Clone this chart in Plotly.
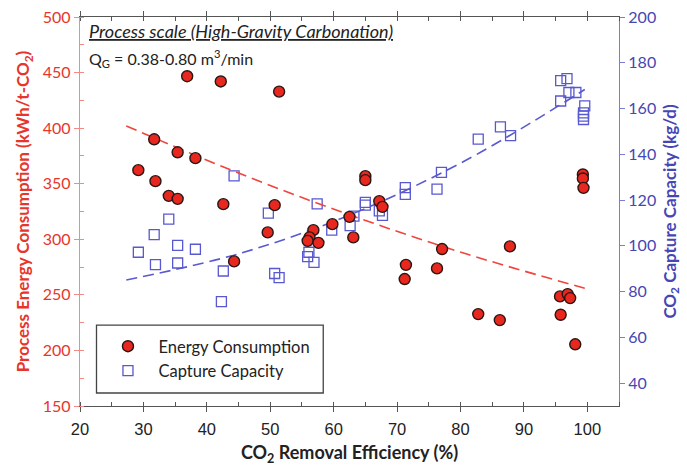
import plotly.graph_objects as go

# CO2 removal efficiency (%) and process energy consumption (kWh/t-CO2)
removal_energy = [36.9, 42.2, 51.4, 31.7, 35.4, 38.2, 29.2, 31.9, 34.0, 35.4,
                  42.6, 50.7, 49.6, 44.3, 56.8, 56.2, 55.9, 57.6, 59.8, 62.5,
                  63.1, 65.0, 65.0, 67.2, 67.7, 71.4, 71.2, 77.1, 76.3, 87.8,
                  82.8, 86.2, 95.7, 96.9, 97.3, 95.8, 98.1, 99.3, 99.3, 99.4]
energy = [446.7, 442.0, 432.9, 390.0, 378.3, 373.0, 362.2, 352.3, 339.1, 336.4,
          331.6, 330.7, 306.2, 280.1, 308.2, 301.7, 298.6, 296.8, 313.6, 320.2,
          301.7, 356.8, 353.2, 334.3, 329.2, 277.0, 264.2, 291.2, 273.8, 293.6,
          232.7, 227.3, 248.6, 250.7, 247.1, 232.1, 205.5, 358.3, 354.7, 346.3]

# CO2 removal efficiency (%) and CO2 capture capacity (kg/d)
removal_capacity = [44.3, 34.0, 31.7, 49.7, 57.4, 29.2, 35.4, 38.2, 31.9, 35.4,
                    42.3, 42.6, 50.7, 51.4, 56.1, 55.9, 56.9, 65.0, 65.0, 67.2,
                    67.7, 62.6, 63.2, 59.7, 71.3, 71.3, 76.3, 77.0, 82.8, 86.3,
                    87.9, 95.8, 96.8, 97.1, 98.2, 95.8, 99.6, 99.4, 99.4, 99.4]
capacity = [130.6, 111.7, 104.9, 114.3, 118.3, 97.2, 100.2, 98.5, 91.8, 92.5,
            75.6, 89.0, 87.9, 86.1, 97.2, 95.3, 92.8, 119.0, 117.8, 115.3,
            113.3, 108.8, 113.0, 106.9, 125.4, 122.5, 124.8, 132.1, 146.6, 152.0,
            148.2, 172.2, 173.1, 167.0, 167.0, 163.3, 161.2, 158.1, 156.7, 155.2]

# Trend curves
energy_trend_x = [27.3, 45.0, 63.0, 81.0, 99.6]
energy_trend_y = [402.0, 359.6, 321.0, 286.7, 256.0]
capacity_trend_x = [27.3, 45.0, 63.0, 81.0, 99.6]
capacity_trend_y = [85.1, 96.5, 114.0, 137.6, 168.3]

RED = "#e8271f"
RED_TEXT = "#e8352c"
RED_AXIS = "#f28a85"
BLUE_TEXT = "#4646b4"
BLUE_AXIS = "#7c7cd4"
FONT = "Lato"
TICK_FONT = "Liberation Sans"

fig = go.Figure()

fig.add_trace(go.Scatter(
    x=capacity_trend_x, y=capacity_trend_y, yaxis="y", mode="lines",
    line=dict(color="#5a5ad0", width=1.6, dash="11px,6px", shape="spline"),
    showlegend=False, hoverinfo="skip"))
fig.add_trace(go.Scatter(
    x=energy_trend_x, y=energy_trend_y, yaxis="y2", mode="lines",
    line=dict(color="#f0443c", width=1.6, dash="11px,6px", shape="spline"),
    showlegend=False, hoverinfo="skip"))

fig.add_trace(go.Scatter(
    x=removal_energy, y=energy, yaxis="y2", mode="markers",
    name="Energy Consumption",
    marker=dict(symbol="circle", size=11, color=RED,
                line=dict(color="#2a1613", width=1.4))))
fig.add_trace(go.Scatter(
    x=removal_capacity, y=capacity, yaxis="y", mode="markers",
    name="Capture Capacity",
    marker=dict(symbol="square-open", size=10, color="#5858d0",
                line=dict(width=1.3))))

fig.update_layout(
    width=687, height=466,
    margin=dict(l=80, r=68, t=17, b=60),
    paper_bgcolor="white", plot_bgcolor="white",
    font=dict(family=FONT, size=16, color="#222"),
    xaxis=dict(
        range=[20, 105], dtick=10, tick0=20, automargin=False,
        showgrid=False, zeroline=False,
        showline=True, linecolor="#555", linewidth=1.2, mirror="ticks",
        ticks="outside", ticklen=5, tickcolor="#555", tickwidth=1.2,
        ticklabelstandoff=3,
        minor=dict(dtick=5, ticks="inside", ticklen=4, tickcolor="#555", tickwidth=1.2),
        tickfont=dict(family=TICK_FONT, size=16.5, color="#222"),
        title=dict(text="<b>CO<sub>2</sub> Removal Efficiency (%)</b>",
                   font=dict(family=FONT, size=18, color="#222"), standoff=12),
    ),
    yaxis=dict(
        side="right", range=[30, 200], dtick=20, tick0=40, automargin=False,
        showgrid=False, zeroline=False,
        showline=True, linecolor=BLUE_AXIS, linewidth=1.3,
        ticks="outside", ticklen=5, tickcolor=BLUE_AXIS, tickwidth=1.2,
        tickfont=dict(family=FONT, size=16, color=BLUE_TEXT),
        title=dict(text="<b>CO<sub>2</sub> Capture Capacity (kg/d)</b>",
                   font=dict(family=FONT, size=17, color=BLUE_TEXT), standoff=8),
    ),
    yaxis2=dict(
        side="left", overlaying="y", range=[150, 500], dtick=50, automargin=False,
        showgrid=False, zeroline=False,
        showline=True, linecolor=RED_AXIS, linewidth=1.3,
        ticks="outside", ticklen=5, tickcolor=RED_AXIS, tickwidth=1.2,
        minor=dict(dtick=25, ticks="inside", ticklen=4, tickcolor=RED_AXIS),
        tickfont=dict(family=FONT, size=16, color=RED_TEXT),
        title=dict(text="<b>Process Energy Consumption (kWh/t-CO<sub>2</sub>)</b>",
                   font=dict(family=FONT, size=17, color=RED_TEXT), standoff=8),
    ),
    legend=dict(
        x=0.0324, y=0.198, xanchor="left", yanchor="top",
        bgcolor="rgba(0,0,0,0)", borderwidth=0,
        font=dict(family=FONT, size=16.5, color="#222"),
        itemwidth=51, tracegroupgap=4,
    ),
    shapes=[dict(
        type="rect", xref="paper", yref="paper",
        x0=0.0306, x1=0.4513, y0=0.0334, y1=0.2081,
        line=dict(color="#444", width=1.3), fillcolor="white", layer="below")],
    annotations=[
        dict(text="<i><u>Process scale (High-Gravity Carbonation)</u></i>",
             xref="paper", yref="paper", x=0.013, y=0.963,
             xanchor="left", yanchor="middle", showarrow=False,
             font=dict(family=FONT, size=18, color="#222")),
        dict(text="Q<sub>G</sub> = 0.38-0.80 m<sup>3</sup>/min",
             xref="paper", yref="paper", x=0.013, y=0.894,
             xanchor="left", yanchor="middle", showarrow=False,
             font=dict(family=FONT, size=16, color="#222")),
    ],
)

fig.write_html("out.html")
